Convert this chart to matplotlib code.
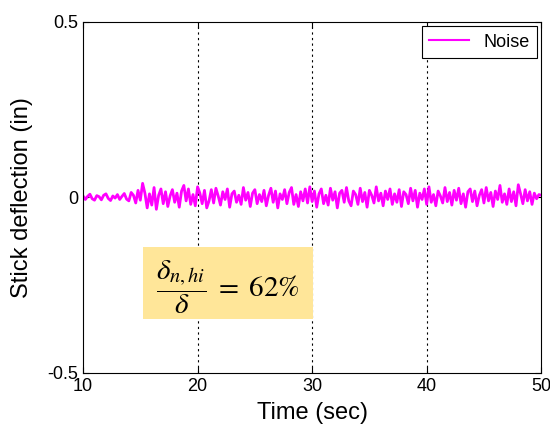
import matplotlib.pyplot as plt
import numpy as np
from matplotlib.patches import Rectangle

# time axis and stick deflection noise (every 0.2 s)
t_start, t_step = 10.0, 0.2
noise = [
    0.004, -0.006, 0.003, 0.009, -0.004, -0.008, 0.005, 0.002, -0.007, 0.006,
    0.010, -0.003, -0.009, 0.004, -0.002, 0.008, -0.006, 0.003, 0.011, -0.005,
    -0.010, 0.014, 0.006, -0.016, 0.020, -0.008, 0.040, 0.012, -0.030, 0.010,
    -0.022, 0.028, -0.034, 0.006, 0.024, -0.018, 0.016, -0.026, 0.004, 0.022,
    -0.014, 0.012, -0.028, 0.018, 0.034, -0.010, 0.024, -0.020, 0.008, -0.024,
    0.030, 0.012, -0.018, 0.020, -0.030, -0.010, 0.022, -0.016, 0.026, 0.004,
    -0.022, 0.016, -0.006, 0.024, -0.028, 0.010, 0.018, -0.014, 0.006, -0.020,
    0.028, -0.008, 0.014, -0.026, 0.012, 0.022, -0.018, 0.008, -0.012, 0.020,
    -0.024, 0.006, 0.026, -0.014, 0.018, -0.030, 0.010, -0.006, 0.022, -0.018,
    0.014, 0.028, -0.020, 0.008, -0.026, 0.016, -0.010, 0.024, -0.016, 0.030,
    -0.012, 0.018, -0.028, 0.010, 0.024, -0.018, 0.006, -0.022, 0.026, -0.008,
    0.016, -0.030, 0.012, 0.020, -0.014, 0.028, -0.010, -0.024, 0.018, 0.008,
    -0.020, 0.026, -0.012, 0.014, -0.028, 0.020, 0.006, -0.016, 0.030, -0.010,
    0.012, -0.024, 0.018, -0.006, 0.024, -0.020, 0.010, -0.014, 0.022, -0.026,
    0.016, 0.008, -0.018, 0.026, -0.010, 0.020, -0.028, 0.012, -0.006, 0.024,
    -0.020, 0.030, -0.014, 0.008, -0.024, 0.018, 0.004, -0.016, 0.028, -0.012,
    0.014, -0.022, 0.020, -0.008, 0.026, -0.018, 0.010, -0.028, 0.016, 0.024,
    -0.012, 0.018, -0.024, 0.006, 0.022, -0.016, 0.028, -0.010, 0.014, -0.026,
    0.018, -0.006, 0.034, -0.014, 0.010, -0.020, 0.024, -0.012, 0.016, -0.024,
    0.036, 0.010, -0.018, 0.022, -0.010, 0.016, -0.020, 0.012, -0.004, 0.008,
    0.006,
]
grid_times = [20, 30, 40]
x_ticks = [10, 20, 30, 40, 50]
y_ticks = [-0.5, 0, 0.5]
y_tick_labels = ['-0.5', '0', '0.5']

time = t_start + t_step * np.arange(len(noise))

plt.rcParams['font.family'] = ['Liberation Sans', 'DejaVu Sans']
plt.rcParams['mathtext.fontset'] = 'stix'

fig = plt.figure(figsize=(5.5, 4.3), dpi=100)
ax = fig.add_axes([0.151, 0.133, 0.833, 0.816])

ax.plot(time, noise, color='#ff00ff', lw=2.0, label='Noise')
for g in grid_times:
    ax.axvline(g, color='black', lw=0.8, ls=(0, (2, 3)), zorder=0)

ax.set_xlim(10, 50)
ax.set_ylim(-0.5, 0.5)
ax.set_xticks(x_ticks)
ax.set_yticks(y_ticks)
ax.set_yticklabels(y_tick_labels)
ax.tick_params(direction='in', length=4, labelsize=13, top=True, right=True)
ax.set_xlabel('Time (sec)', fontsize=17, labelpad=5)
ax.set_ylabel('Stick deflection (in)', fontsize=17, labelpad=10)

leg = ax.legend(loc='upper right', fontsize=13, fancybox=False, framealpha=1,
                edgecolor='black', handlelength=2.2, borderaxespad=0.25)
leg.get_frame().set_linewidth(0.8)
leg.get_lines()[0].set_linewidth(1.5)

# yellow annotation box with the ratio
ax.add_patch(Rectangle((0.131, 0.154), 0.371, 0.205, transform=ax.transAxes,
                       fc='#ffe699', ec='none', zorder=3))
ax.text(0.3155, 0.245, r'$\dfrac{\delta_{n,hi}}{\delta}\;=\;62\%$', fontsize=21,
        ha='center', va='center', transform=ax.transAxes, zorder=4)

fig.savefig('out.png', dpi=100)
